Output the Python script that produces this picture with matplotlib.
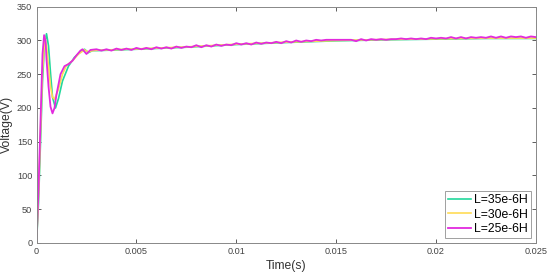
import numpy as np
import matplotlib
matplotlib.use('Agg')
import matplotlib.pyplot as plt

plt.rcParams['font.family'] = ['Liberation Sans', 'DejaVu Sans']

# transient part (s, V)
t_35 = [0, 0.0001, 0.0002, 0.0003, 0.0004, 0.0005, 0.0006, 0.0007, 0.0008, 0.00095,
        0.0011, 0.0013, 0.0016, 0.0019, 0.0022, 0.0024, 0.0026, 0.0028]
v_35 = [0, 60, 150, 240, 295, 310, 292, 252, 216, 200,
        214, 240, 262, 275, 283, 287, 282, 285]
t_30 = [0, 0.0001, 0.0002, 0.0003, 0.00042, 0.0005, 0.0006, 0.0007, 0.0008, 0.0009,
        0.0011, 0.0013, 0.0015, 0.0018, 0.0021, 0.0024, 0.0026, 0.0028]
v_30 = [0, 70, 165, 255, 305, 292, 262, 232, 216, 213,
        228, 250, 263, 270, 280, 286, 283, 285]
t_25 = [0, 0.0001, 0.0002, 0.0003, 0.00038, 0.00045, 0.0005, 0.0006, 0.0007, 0.0008,
        0.0009, 0.001, 0.0012, 0.0014, 0.0016, 0.0018, 0.002, 0.0022, 0.0023, 0.0025, 0.0027]
v_25 = [0, 80, 180, 280, 308, 300, 272, 232, 202, 192,
        200, 220, 250, 262, 265, 270, 278, 285, 287, 280, 286]

# slow rise part
ts_smooth = [0.003, 0.005, 0.0075, 0.01, 0.0125, 0.015, 0.0175, 0.02, 0.0225, 0.025]
vs_35 = [285, 287, 290, 294, 297, 299.5, 301, 302, 303, 303]
vs_30 = [285.5, 287.5, 290.5, 294.5, 297.5, 300, 301.5, 302.5, 303.5, 303.5]
ts_25 = np.arange(0.003, 0.02501, 0.00025)
vs_25 = [287, 285, 287, 285, 288, 286, 288, 286, 289, 287, 289, 287, 290, 288, 290, 288,
         291, 289, 291, 290, 293, 290, 293, 291, 294, 292, 294, 293, 296, 294, 296, 294,
         297, 295, 297, 296, 298, 296, 299, 297, 300, 298, 300, 299, 301, 300, 301, 301,
         301, 301, 301, 301, 299, 302, 300, 302, 301, 302, 301, 302, 302, 303, 302, 303,
         302, 303, 302, 304, 303, 304, 303, 305, 303, 305, 303, 305, 304, 305, 304, 306,
         304, 306, 304, 306, 305, 306, 304, 306, 305]

labels = ['L=35e-6H', 'L=30e-6H', 'L=25e-6H']
colors = ['#22d89c', '#ffdc55', '#e22ade']

fig = plt.figure(figsize=(5.5, 2.76), dpi=100)
ax = fig.add_axes([0.0664, 0.1196, 0.908, 0.856])
ax.plot(t_35 + ts_smooth, v_35 + vs_35, color=colors[0], lw=1.2, label=labels[0])
ax.plot(t_30 + ts_smooth, v_30 + vs_30, color=colors[1], lw=1.2, label=labels[1])
ax.plot(t_25 + list(ts_25), v_25 + vs_25, color=colors[2], lw=1.3, label=labels[2])

ax.set_xlim(0, 0.025)
ax.set_ylim(0, 350)
ax.set_xticks([0, 0.005, 0.01, 0.015, 0.02, 0.025])
ax.set_xticklabels(['0', '0.005', '0.01', '0.015', '0.02', '0.025'])
ax.set_yticks(range(0, 351, 50))
ax.tick_params(direction='in', top=True, right=True, labelsize=6.6, colors='#444444',
               length=3, width=0.6, pad=3)
for s in ax.spines.values():
    s.set_color('#888888'); s.set_linewidth(0.7)
ax.set_xlabel('Time(s)', fontsize=8.7, color='#333333', labelpad=3)
ax.set_ylabel('Voltage(V)', fontsize=8.7, color='#333333', labelpad=3)
leg = ax.legend(loc='lower right', fontsize=8.8, frameon=True, fancybox=False,
                borderaxespad=0.4, handlelength=1.9, handletextpad=0.25,
                borderpad=0.25, labelspacing=0.2)
leg.get_frame().set_edgecolor('#888888'); leg.get_frame().set_linewidth(0.7)
fig.savefig('out.png', dpi=100)
